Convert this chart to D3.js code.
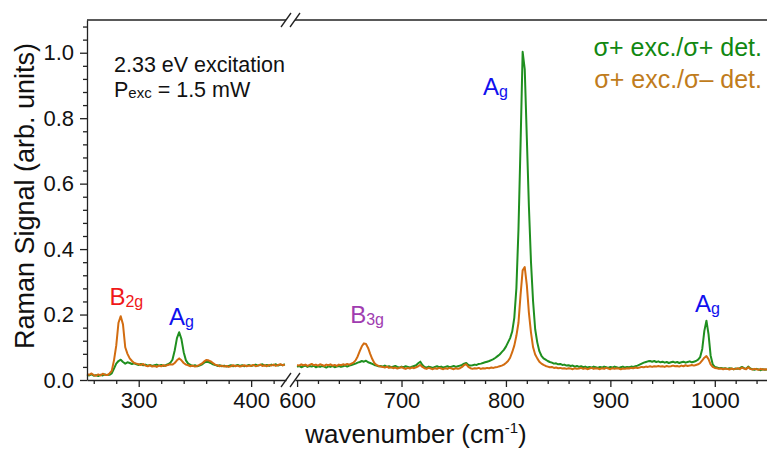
<!DOCTYPE html>
<html>
<head>
<meta charset="utf-8">
<script src="https://cdn.jsdelivr.net/npm/d3@7"></script>
<style>
body { margin: 0; background: #fff; }
text { font-family: "Liberation Sans", Arial, sans-serif; }
</style>
</head>
<body>
<svg id="chart"></svg>
<script>
// wavenumber grids (cm-1) of the two spectrum windows
var leftWavenumber = d3.range(254, 431, 2);
var rightWavenumber = d3.range(600, 1051, 2);

// sigma+ / sigma+ (green)
var leftGreen = [
  .016,.014,.017,.013,.015,.012,.016,.014,.017,.015,
  .016,.020,.035,.050,.058,.062,.055,.050,.054,.052,
  .049,.051,.048,.046,.049,.045,.047,.044,.046,.043,
  .045,.047,.044,.046,.043,.045,.048,.052,.062,.090,
  .128,.146,.125,.085,.060,.050,.046,.043,.045,.042,
  .044,.047,.052,.056,.055,.052,.048,.046,.043,.045,
  .042,.044,.041,.043,.045,.042,.044,.046,.043,.045,
  .042,.044,.046,.043,.045,.047,.044,.046,.048,.044,
  .046,.043,.047,.045,.048,.044,.047,.045,.048
];
var rightGreen = [
  .040,.043,.039,.042,.044,.040,.043,.041,.044,.039,
  .042,.040,.043,.041,.038,.042,.040,.043,.039,.041,
  .043,.040,.042,.044,.041,.044,.046,.048,.050,.053,
  .055,.058,.056,.059,.054,.052,.049,.046,.044,.042,
  .043,.041,.044,.040,.042,.039,.041,.043,.040,.038,
  .041,.039,.042,.040,.038,.041,.043,.045,.051,.056,
  .046,.040,.038,.041,.039,.037,.040,.042,.039,.041,
  .038,.040,.042,.039,.041,.043,.040,.042,.044,.046,
  .050,.052,.046,.044,.045,.047,.046,.049,.050,.052,
  .054,.056,.058,.061,.064,.068,.073,.078,.085,.092,
  .102,.115,.128,.148,.190,.280,.460,.720,1.003,.950,
  .740,.530,.360,.240,.155,.115,.088,.074,.066,.062,
  .058,.055,.053,.050,.051,.048,.049,.046,.047,.044,
  .045,.043,.044,.041,.043,.040,.042,.039,.041,.038,
  .040,.038,.041,.039,.037,.040,.038,.041,.039,.037,
  .040,.038,.041,.039,.037,.039,.041,.038,.040,.039,
  .041,.040,.042,.044,.047,.050,.053,.055,.057,.058,
  .056,.058,.055,.057,.054,.056,.053,.055,.052,.054,
  .056,.053,.055,.052,.054,.056,.053,.055,.057,.054,
  .056,.058,.062,.070,.095,.150,.181,.140,.075,.048,
  .040,.038,.036,.037,.035,.036,.034,.036,.035,.033,
  .035,.034,.036,.040,.036,.034,.041,.035,.033,.031,
  .034,.032,.030,.033,.031,.032
];

// sigma+ / sigma- (orange)
var leftOrange = [
  .018,.016,.020,.015,.013,.017,.014,.019,.016,.015,
  .020,.028,.060,.105,.175,.195,.170,.100,.080,.066,
  .058,.052,.050,.048,.046,.049,.044,.042,.045,.041,
  .043,.040,.044,.042,.045,.043,.046,.048,.047,.052,
  .060,.066,.060,.052,.047,.045,.042,.044,.041,.043,
  .046,.050,.056,.061,.060,.057,.052,.047,.045,.042,
  .044,.041,.043,.040,.042,.045,.042,.044,.041,.043,
  .045,.042,.044,.043,.046,.042,.044,.047,.043,.045,
  .042,.046,.044,.047,.043,.046,.048,.045,.047
];
var rightOrange = [
  .046,.044,.048,.045,.047,.043,.046,.049,.045,.047,
  .044,.048,.046,.043,.047,.045,.048,.044,.046,.043,
  .047,.045,.048,.046,.049,.047,.050,.053,.060,.072,
  .088,.103,.112,.110,.098,.080,.064,.052,.046,.043,
  .041,.040,.038,.041,.037,.039,.036,.038,.035,.037,
  .039,.036,.034,.037,.035,.038,.036,.039,.042,.046,
  .040,.036,.034,.037,.035,.033,.036,.034,.037,.035,
  .033,.036,.034,.037,.035,.033,.036,.034,.036,.040,
  .046,.048,.040,.036,.034,.036,.035,.037,.034,.036,
  .035,.037,.036,.038,.037,.039,.040,.042,.044,.047,
  .052,.058,.068,.085,.105,.135,.175,.260,.335,.345,
  .290,.205,.145,.100,.078,.066,.056,.050,.046,.043,
  .041,.039,.040,.037,.038,.036,.037,.035,.036,.034,
  .036,.035,.033,.036,.034,.035,.037,.034,.036,.033,
  .035,.037,.034,.036,.035,.033,.036,.034,.037,.035,
  .033,.036,.034,.036,.035,.033,.035,.034,.036,.035,
  .037,.036,.038,.037,.038,.040,.039,.041,.040,.042,
  .040,.042,.041,.043,.041,.042,.040,.043,.041,.042,
  .044,.042,.043,.041,.044,.042,.045,.043,.044,.046,
  .044,.046,.048,.052,.060,.068,.073,.064,.048,.040,
  .037,.036,.034,.035,.033,.035,.034,.032,.035,.033,
  .034,.036,.033,.038,.035,.033,.039,.034,.032,.034,
  .033,.031,.034,.032,.033,.032
];

var yTicks = [0, 0.2, 0.4, 0.6, 0.8, 1.0];
var leftTicks = [300, 400];
var rightTicks = [600, 700, 800, 900, 1000];
var legendLabels = ["σ+ exc./σ+ det.", "σ+ exc./σ– det."];
var modeMain = ["B", "A", "B", "A", "A"];
var modeSub = ["2g", "g", "3g", "g", "g"];
var modePanel = [0, 0, 1, 1, 1];
var modeWavenumber = [289, 338, 667, 790, 993];
var modeHeight = [0.229, 0.168, 0.174, 0.872, 0.208];

var width = 767, height = 451;
var top_ = 20, bottom = 380;
var green = "#1f8f1f", orange = "#d26c10";
var modeColor = ["#f01818", "#1010ee", "#a03cb0", "#1010ee", "#1010ee"];

var svg = d3.select("#chart").attr("width", width).attr("height", height);

var y = d3.scaleLinear().domain([0, 1.1]).range([bottom, top_]);

var panels = [
  {x: d3.scaleLinear().domain([254, 431]).range([87, 286]), w: leftWavenumber, g: leftGreen, o: leftOrange, ticks: leftTicks},
  {x: d3.scaleLinear().domain([598, 1050]).range([295, 767]), w: rightWavenumber, g: rightGreen, o: rightOrange, ticks: rightTicks}
];

panels.forEach(function(p) {
  var dom = p.x.domain();
  var minor = d3.range(Math.ceil(dom[0] / 20) * 20, dom[1], 20).filter(function(d) { return d % 100 !== 0; });

  var axis = svg.append("g").attr("transform", "translate(0," + bottom + ")")
    .call(d3.axisBottom(p.x).tickValues(p.ticks).tickFormat(d3.format("d")).tickSize(7).tickSizeOuter(0).tickPadding(5));
  axis.selectAll("text").attr("font-size", 22).attr("fill", "#111");
  axis.selectAll("path,line").attr("stroke", "#222").attr("stroke-width", 1.3);

  var axisMinor = svg.append("g").attr("transform", "translate(0," + bottom + ")")
    .call(d3.axisBottom(p.x).tickValues(minor).tickSize(4).tickFormat(""));
  axisMinor.select(".domain").remove();
  axisMinor.selectAll("line").attr("stroke", "#222").attr("stroke-width", 1.3);

  // top frame
  svg.append("line")
    .attr("x1", p.x.range()[0]).attr("x2", p.x.range()[1])
    .attr("y1", top_).attr("y2", top_)
    .attr("stroke", "#222").attr("stroke-width", 1.3);

  var line = d3.line()
    .x(function(d, i) { return p.x(p.w[i]); })
    .y(function(d) { return y(d); });

  svg.append("path").datum(p.g)
    .attr("d", line).attr("fill", "none")
    .attr("stroke", green).attr("stroke-width", 2).attr("stroke-linejoin", "round");
  svg.append("path").datum(p.o)
    .attr("d", line).attr("fill", "none")
    .attr("stroke", orange).attr("stroke-width", 2).attr("stroke-linejoin", "round");
});

// axis break marks
[panels[0].x.range()[1], panels[1].x.range()[0]].forEach(function(bx) {
  [top_, bottom].forEach(function(by) {
    svg.append("line")
      .attr("x1", bx - 5).attr("y1", by + 7)
      .attr("x2", bx + 5).attr("y2", by - 7)
      .attr("stroke", "#222").attr("stroke-width", 1.3);
  });
});

// y axis
var yMinor = d3.range(1, 28).map(function(i) { return i * 0.04; })
  .filter(function(d) { return Math.abs(d * 5 - Math.round(d * 5)) > 0.01; });
var yAxis = svg.append("g").attr("transform", "translate(87,0)")
  .call(d3.axisLeft(y).tickValues(yTicks).tickFormat(d3.format(".1f")).tickSize(7).tickSizeOuter(0).tickPadding(6));
yAxis.selectAll("text").attr("font-size", 22).attr("fill", "#111");
yAxis.selectAll("path,line").attr("stroke", "#222").attr("stroke-width", 1.3);
var yAxisMinor = svg.append("g").attr("transform", "translate(87,0)")
  .call(d3.axisLeft(y).tickValues(yMinor).tickSize(4).tickFormat(""));
yAxisMinor.select(".domain").remove();
yAxisMinor.selectAll("line").attr("stroke", "#222").attr("stroke-width", 1.3);

// axis titles
svg.append("text")
  .attr("transform", "translate(34,196) rotate(-90)")
  .attr("text-anchor", "middle").attr("font-size", 27).attr("fill", "#111")
  .text("Raman Signal (arb. units)");

var xTitle = svg.append("text")
  .attr("x", 416).attr("y", 443)
  .attr("text-anchor", "middle").attr("font-size", 26).attr("fill", "#111");
xTitle.append("tspan").text("wavenumber (cm");
xTitle.append("tspan").attr("font-size", 15).attr("dy", -10).text("-1");
xTitle.append("tspan").attr("dy", 10).text(")");

// excitation notes
svg.append("text").attr("x", 114).attr("y", 72).attr("font-size", 21.5).attr("fill", "#111")
  .text("2.33 eV excitation");
var pexc = svg.append("text").attr("x", 114).attr("y", 97).attr("font-size", 21.5).attr("fill", "#111");
pexc.append("tspan").text("P");
pexc.append("tspan").attr("font-size", 15).attr("dy", 1).text("exc");
pexc.append("tspan").attr("dy", -1).text(" = 1.5 mW");

// legend
svg.selectAll(".legend")
  .data(legendLabels)
  .enter().append("text")
  .attr("class", "legend")
  .attr("x", 762)
  .attr("y", function(d, i) { return 56 + i * 32; })
  .attr("text-anchor", "end")
  .attr("font-size", 25)
  .attr("fill", function(d, i) { return i === 0 ? "#118811" : "#c07c1c"; })
  .text(function(d) { return d; });

// Raman mode labels
modeMain.forEach(function(m, i) {
  var t = svg.append("text")
    .attr("x", panels[modePanel[i]].x(modeWavenumber[i]))
    .attr("y", y(modeHeight[i]))
    .attr("text-anchor", "middle")
    .attr("font-size", 24)
    .attr("fill", modeColor[i]);
  t.append("tspan").text(m);
  t.append("tspan").attr("font-size", 16).attr("dy", 2).text(modeSub[i]);
});
</script>
</body>
</html>
